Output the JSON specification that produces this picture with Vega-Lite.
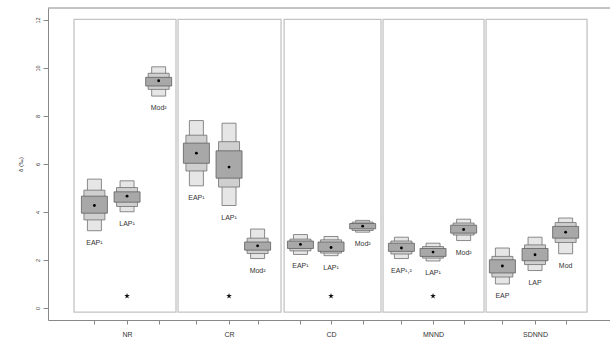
{
  "$schema": "https://vega.github.io/schema/vega-lite/v6.json",
  "width": 562,
  "height": 312,
  "autosize": {"type": "none"},
  "padding": {"left": 48, "top": 8, "right": 0, "bottom": 20},
  "background": "white",
  "config": {
    "view": {"stroke": null},
    "font": "Liberation Sans",
    "axis": {"labelFont": "Liberation Sans", "titleFont": "Liberation Sans"}
  },
  "datasets": {
    "boxes": [
      {"metric": "NR", "sample": "EAP", "pos": 0.68, "olo": 3.22, "ohi": 5.37, "mlo": 3.67, "mhi": 4.91, "dlo": 3.95, "dhi": 4.66, "mode": 4.27, "lab": "EAP¹"},
      {"metric": "NR", "sample": "LAP", "pos": 1.0, "olo": 4.01, "ohi": 5.30, "mlo": 4.23, "mhi": 5.02, "dlo": 4.41, "dhi": 4.84, "mode": 4.66, "lab": "LAP¹"},
      {"metric": "NR", "sample": "Mod", "pos": 1.31, "olo": 8.83, "ohi": 10.05, "mlo": 9.11, "mhi": 9.78, "dlo": 9.25, "dhi": 9.61, "mode": 9.47, "lab": "Mod²"},
      {"metric": "CR", "sample": "EAP", "pos": 1.68, "olo": 5.09, "ohi": 7.81, "mlo": 5.71, "mhi": 7.20, "dlo": 6.03, "dhi": 6.87, "mode": 6.45, "lab": "EAP¹"},
      {"metric": "CR", "sample": "LAP", "pos": 2.0, "olo": 4.27, "ohi": 7.70, "mlo": 5.04, "mhi": 6.93, "dlo": 5.41, "dhi": 6.55, "mode": 5.87, "lab": "LAP¹"},
      {"metric": "CR", "sample": "Mod", "pos": 2.28, "olo": 2.06, "ohi": 3.29, "mlo": 2.27, "mhi": 2.91, "dlo": 2.41, "dhi": 2.75, "mode": 2.59, "lab": "Mod²"},
      {"metric": "CD", "sample": "EAP", "pos": 2.7, "olo": 2.23, "ohi": 3.06, "mlo": 2.38, "mhi": 2.87, "dlo": 2.48, "dhi": 2.79, "mode": 2.65, "lab": "EAP¹"},
      {"metric": "CD", "sample": "LAP", "pos": 3.0, "olo": 2.18, "ohi": 2.98, "mlo": 2.29, "mhi": 2.84, "dlo": 2.36, "dhi": 2.75, "mode": 2.52, "lab": "LAP¹"},
      {"metric": "CD", "sample": "Mod", "pos": 3.31, "olo": 3.16, "ohi": 3.65, "mlo": 3.23, "mhi": 3.58, "dlo": 3.30, "dhi": 3.52, "mode": 3.41, "lab": "Mod²"},
      {"metric": "MNND", "sample": "EAP", "pos": 3.69, "olo": 2.06, "ohi": 2.95, "mlo": 2.25, "mhi": 2.79, "dlo": 2.36, "dhi": 2.70, "mode": 2.50, "lab": "EAP¹,²"},
      {"metric": "MNND", "sample": "LAP", "pos": 4.0, "olo": 1.96, "ohi": 2.70, "mlo": 2.08, "mhi": 2.56, "dlo": 2.15, "dhi": 2.48, "mode": 2.33, "lab": "LAP¹"},
      {"metric": "MNND", "sample": "Mod", "pos": 4.3, "olo": 2.81, "ohi": 3.70, "mlo": 3.04, "mhi": 3.54, "dlo": 3.12, "dhi": 3.45, "mode": 3.27, "lab": "Mod²"},
      {"metric": "SDNND", "sample": "EAP", "pos": 4.68, "olo": 1.00, "ohi": 2.50, "mlo": 1.29, "mhi": 2.15, "dlo": 1.46, "dhi": 2.01, "mode": 1.75, "lab": "EAP"},
      {"metric": "SDNND", "sample": "LAP", "pos": 5.0, "olo": 1.56, "ohi": 2.95, "mlo": 1.81, "mhi": 2.63, "dlo": 1.97, "dhi": 2.48, "mode": 2.22, "lab": "LAP"},
      {"metric": "SDNND", "sample": "Mod", "pos": 5.3, "olo": 2.26, "ohi": 3.75, "mlo": 2.73, "mhi": 3.56, "dlo": 2.91, "dhi": 3.40, "mode": 3.16, "lab": "Mod"}
    ],
    "panels": [
      {"metric": "NR", "left": 0.48, "right": 1.48, "lo": -0.17, "hi": 12.03},
      {"metric": "CR", "left": 1.50, "right": 2.51, "lo": -0.17, "hi": 12.03},
      {"metric": "CD", "left": 2.54, "right": 3.49, "lo": -0.17, "hi": 12.03},
      {"metric": "MNND", "left": 3.51, "right": 4.50, "lo": -0.17, "hi": 12.03},
      {"metric": "SDNND", "left": 4.52, "right": 5.51, "lo": -0.17, "hi": 12.03}
    ],
    "stars": [
      {"metric": "NR", "pos": 1.0, "y": 0.5},
      {"metric": "CR", "pos": 2.0, "y": 0.5},
      {"metric": "CD", "pos": 3.0, "y": 0.5},
      {"metric": "MNND", "pos": 4.0, "y": 0.5}
    ],
    "frame": [{"top": 12.5}]
  },
  "layer": [
    {
      "data": {"name": "panels"},
      "mark": {"type": "rect", "fill": null, "stroke": "#c4c4c4", "strokeWidth": 1.3},
      "encoding": {
        "x": {"field": "left", "type": "quantitative", "scale": {"domain": [0.225, 5.735], "nice": false, "zero": false, "padding": 0},
          "axis": {
            "values": [0.68, 1, 1.31, 1.68, 2, 2.28, 2.7, 3, 3.31, 3.69, 4, 4.3, 4.68, 5, 5.3],
            "labelExpr": "datum.value==1?'NR':datum.value==2?'CR':datum.value==3?'CD':datum.value==4?'MNND':datum.value==5?'SDNND':''",
            "title": null, "grid": false, "domainColor": "#888", "tickColor": "#888", "tickSize": 4,
            "labelPadding": 6, "labelFontSize": 7, "labelColor": "#333", "labelOverlap": false, "labelBound": false, "labelFlush": false
          }},
        "x2": {"field": "right"},
        "y": {"field": "lo", "type": "quantitative", "scale": {"domain": [-0.5, 12.5], "nice": false, "zero": false, "padding": 0},
          "axis": {
            "values": [0, 2, 4, 6, 8, 10, 12], "title": "δ (‰)", "grid": false,
            "domainColor": "#888", "tickColor": "#888", "tickSize": 5, "labelAngle": -90,
            "labelAlign": "center", "labelBaseline": "bottom", "labelPadding": 3,
            "labelFontSize": 5.5, "labelColor": "#333", "titleFontSize": 6, "titleFontWeight": "normal",
            "titleColor": "#333", "titleX": -28, "titleY": 156, "titleAngle": -90, "titleAlign": "center", "titleBaseline": "middle"
          }},
        "y2": {"field": "hi"}
      }
    },
    {
      "data": {"name": "frame"},
      "mark": {"type": "rule", "color": "#888", "strokeWidth": 1},
      "encoding": {"y": {"field": "top", "type": "quantitative"}}
    },
    {
      "data": {"name": "boxes"},
      "mark": {"type": "bar", "size": 14, "fill": "#e6e6e6", "stroke": "#707070", "strokeWidth": 0.8},
      "encoding": {
        "x": {"field": "pos", "type": "quantitative"},
        "y": {"field": "olo", "type": "quantitative"},
        "y2": {"field": "ohi"}
      }
    },
    {
      "data": {"name": "boxes"},
      "mark": {"type": "bar", "size": 21, "fill": "#cfcfcf", "stroke": "#707070", "strokeWidth": 0.8},
      "encoding": {
        "x": {"field": "pos", "type": "quantitative"},
        "y": {"field": "mlo", "type": "quantitative"},
        "y2": {"field": "mhi"}
      }
    },
    {
      "data": {"name": "boxes"},
      "mark": {"type": "bar", "size": 26, "fill": "#a8a8a8", "stroke": "#606060", "strokeWidth": 0.8},
      "encoding": {
        "x": {"field": "pos", "type": "quantitative"},
        "y": {"field": "dlo", "type": "quantitative"},
        "y2": {"field": "dhi"}
      }
    },
    {
      "data": {"name": "boxes"},
      "mark": {"type": "point", "filled": true, "color": "black", "size": 8, "opacity": 1},
      "encoding": {
        "x": {"field": "pos", "type": "quantitative"},
        "y": {"field": "mode", "type": "quantitative"}
      }
    },
    {
      "data": {"name": "boxes"},
      "mark": {"type": "text", "fontSize": 7, "color": "#333", "baseline": "middle", "align": "center", "dy": 12},
      "encoding": {
        "x": {"field": "pos", "type": "quantitative"},
        "y": {"field": "olo", "type": "quantitative"},
        "text": {"field": "lab"}
      }
    },
    {
      "data": {"name": "stars"},
      "mark": {"type": "point", "filled": true, "color": "#111", "opacity": 1, "size": 36,
        "shape": "M0,-1L0.22,-0.3L0.95,-0.3L0.36,0.12L0.59,0.81L0,0.38L-0.59,0.81L-0.36,0.12L-0.95,-0.3L-0.22,-0.3Z"},
      "encoding": {
        "x": {"field": "pos", "type": "quantitative"},
        "y": {"field": "y", "type": "quantitative"}
      }
    }
  ]
}
